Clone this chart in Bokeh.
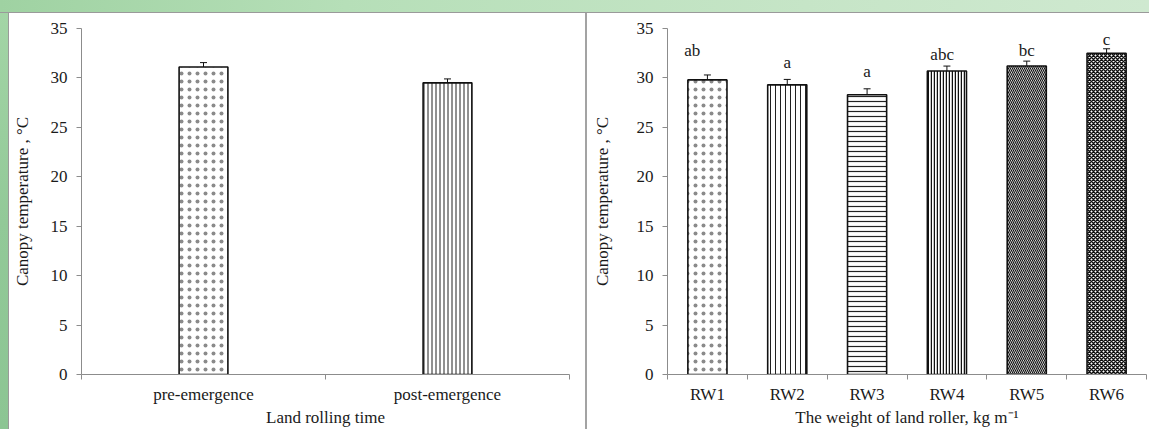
from bokeh.plotting import figure
from bokeh.models import Range1d, FixedTicker, Whisker, TeeHead, ColumnDataSource, Spacer
from bokeh.layouts import row, column
from bokeh.core.properties import value
from bokeh.embed import file_html
from bokeh.resources import INLINE

# ---------------- data ----------------
y_ticks = [0, 5, 10, 15, 20, 25, 30, 35]

time_labels = ["pre-emergence", "post-emergence"]
time_values = [31.1, 29.5]
time_errors = [0.45, 0.4]

roller_labels = ["RW1", "RW2", "RW3", "RW4", "RW5", "RW6"]
roller_values = [29.8, 29.3, 28.3, 30.7, 31.2, 32.5]
roller_errors = [0.5, 0.55, 0.6, 0.5, 0.5, 0.45]
roller_letters = ["ab", "a", "a", "abc", "bc", "c"]
letter_heights = [32.8, 31.6, 30.6, 32.4, 32.8, 33.9]
letter_shift = [-0.19, 0.0, 0.0, -0.06, 0.0, 0.0]

# ---------------- styles ----------------
FONT = "Liberation Serif"
AXIS_GRAY = "#8c8c8c"
TEXT = "#1a1a1a"

time_patterns = ["dot", "vertical_line"]
time_scales = [8, 4]
time_weights = [0.5, 1.0]
time_hcolors = ["#8a8a8a", "#222222"]

roller_patterns = ["dot", "vertical_line", "horizontal_line", "vertical_line",
                   "left_diagonal_line", "diagonal_cross"]
roller_scales = [8, 5, 5, 3, 4, 4]
roller_weights = [0.5, 1.0, 1.2, 1.5, 1.2, 1.5]
roller_hcolors = ["#8a8a8a", "#222222", "#222222", "#111111", "#111111", "#111111"]


def style_fig(p, xlabel, ylabel, label_standoff):
    p.outline_line_color = None
    p.xgrid.visible = False
    p.ygrid.visible = False
    p.background_fill_color = "white"
    p.border_fill_color = "white"
    for ax in (p.xaxis[0], p.yaxis[0]):
        ax.axis_line_color = AXIS_GRAY
        ax.axis_line_width = 1
        ax.major_label_text_font = FONT
        ax.major_label_text_font_size = "17px"
        ax.major_label_text_color = TEXT
        ax.axis_label_text_font = FONT
        ax.axis_label_text_font_size = "17px"
        ax.axis_label_text_font_style = "normal"
        ax.axis_label_text_color = TEXT
    p.xaxis.axis_label = xlabel
    p.yaxis.axis_label = ylabel
    p.yaxis.ticker = FixedTicker(ticks=y_ticks)
    p.yaxis.major_tick_line_color = AXIS_GRAY
    p.yaxis.major_tick_out = 5
    p.yaxis.major_tick_in = 0
    p.yaxis.minor_tick_line_color = None
    p.yaxis.major_label_standoff = 9
    p.yaxis.axis_label_standoff = label_standoff
    p.xaxis.major_tick_line_color = None
    p.xaxis.minor_tick_line_color = AXIS_GRAY
    p.xaxis.minor_tick_out = 5
    p.xaxis.minor_tick_in = 0
    p.xaxis.major_label_standoff = 4
    p.xaxis.axis_label_standoff = 1


def bar_panel(labels, values, errors, patterns, scales, weights, hcolors,
              bar_width, width, borders, xlabel, ylabel, label_standoff):
    n = len(labels)
    xs = [2 * i + 1 for i in range(n)]
    src = ColumnDataSource(dict(
        x=xs, top=values,
        upper=[v + e for v, e in zip(values, errors)],
        lower=[v - e for v, e in zip(values, errors)],
        pat=patterns, sc=scales, wt=weights, hc=hcolors))
    p = figure(width=width, height=416, x_range=Range1d(0, 2 * n), y_range=Range1d(0, 35),
               output_backend="svg", toolbar_location=None,
               min_border_left=borders[0], min_border_right=borders[1],
               min_border_top=borders[2], min_border_bottom=borders[3])
    p.vbar(x="x", top="top", bottom=0, width=bar_width, source=src,
           fill_color="white", line_color="#111111", line_width=1.6,
           hatch_pattern="pat", hatch_scale="sc", hatch_weight="wt", hatch_color="hc")
    p.add_layout(Whisker(source=src, base="x", upper="upper", lower="lower",
                         line_color="#111111", line_width=1,
                         upper_head=TeeHead(size=7, line_color="#111111", line_width=1),
                         lower_head=TeeHead(size=7, line_color="#111111", line_width=1)))
    style_fig(p, xlabel, ylabel, label_standoff)
    p.xaxis.ticker = FixedTicker(ticks=xs, minor_ticks=[2 * i for i in range(n + 1)])
    p.xaxis.major_label_overrides = {x: lab for x, lab in zip(xs, labels)}
    return p, xs


p1, _ = bar_panel(time_labels, time_values, time_errors, time_patterns, time_scales,
                  time_weights, time_hcolors, 0.4, 576, (71, 16, 15, 51),
                  "Land rolling time", "Canopy temperature , \u00b0C", 16)

p2, xs2 = bar_panel(roller_labels, roller_values, roller_errors, roller_patterns, roller_scales,
                    roller_weights, roller_hcolors, 0.98, 562, (80, 3, 15, 51),
                    "The weight of land roller, kg m\u207b\u00b9", "Canopy temperature , \u00b0C", 22)

letter_src = ColumnDataSource(dict(
    x=[x + s * 2 for x, s in zip(xs2, letter_shift)],
    y=letter_heights, t=roller_letters))
p2.text(x="x", y="y", text="t", source=letter_src, text_font=value(FONT),
        text_font_size="17px", text_align="center", text_baseline="middle", text_color=TEXT)

green_top = Spacer(width=1149, height=12,
                   styles={"background": "linear-gradient(to right, #9fd2a2, #b6dfb8 30%, #c6e5c7 70%, #cfe9d0)"})
top_line = Spacer(width=1149, height=1, styles={"background": "#9a9a9a"})
green_left = Spacer(width=8, height=416,
                    styles={"background": "linear-gradient(to bottom, #a3d5a6, #92c998 50%, #8cc593)"})
left_line = Spacer(width=1, height=416, styles={"background": "#9a9a9a"})
divider = Spacer(width=2, height=416, styles={"background": "#a3a3a3"})

layout = column(green_top, top_line,
                row(green_left, left_line, p1, divider, p2, spacing=0), spacing=0)

open("out.html", "w").write(file_html(layout, INLINE))
